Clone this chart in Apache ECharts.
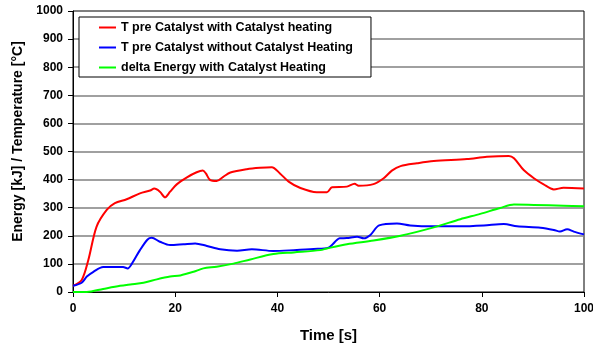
<!DOCTYPE html>
<html>
<head>
<meta charset="utf-8">
<script src="https://cdn.jsdelivr.net/npm/echarts@6/dist/echarts.min.js"></script>
<style>
  html, body { margin: 0; padding: 0; background: #fff; }
  #main { width: 593px; height: 349px; }
</style>
</head>
<body>
<div id="main"></div>
<script>
// series names
const names = [
  "T pre Catalyst with Catalyst heating",
  "T pre Catalyst without Catalyst Heating",
  "delta Energy with Catalyst Heating"
];

// T pre Catalyst with heating
const redT = [0, 1.7, 3.0, 4.6, 6.6, 8.2, 10.5, 13.1, 15.1, 15.9, 17.0, 18.0, 19.0, 20.3, 22.3, 24.2, 25.4, 26.0, 26.8, 28.1, 29.4, 30.8, 34.0, 36.6, 38.9, 40.5, 42.2, 44.5, 47.7, 49.7, 50.7, 53.6, 55.1, 55.9, 58.8, 60.8, 62.4, 64.1, 67.3, 70.6, 77.1, 81.0, 85.3, 86.3, 88.2, 90.2, 92.1, 94.1, 96.0, 100];
const redV = [22, 43, 114, 232, 292, 316, 330, 351, 361, 368, 357, 337, 357, 383, 408, 426, 432, 422, 399, 395, 410, 425, 437, 442, 444, 422, 393, 370, 355, 355, 373, 375, 385, 378, 384, 405, 432, 448, 458, 466, 473, 481, 484, 476, 434, 405, 383, 365, 371, 368];

// T pre Catalyst without heating
const blueT = [0, 1.7, 2.7, 4.0, 5.9, 9.8, 10.7, 11.5, 13.1, 14.6, 15.4, 17.0, 19.0, 21.6, 23.9, 26.2, 28.8, 32.1, 35.0, 39.2, 43.2, 47.1, 50.0, 52.2, 53.6, 55.6, 56.9, 58.2, 59.9, 63.4, 66.0, 70.6, 75.8, 80.4, 84.3, 86.9, 91.5, 94.1, 95.3, 96.7, 98.0, 100];
const blueV = [22, 33, 55, 72, 89, 89, 84, 100, 149, 187, 193, 179, 167, 170, 173, 164, 152, 147, 152, 146, 149, 153, 158, 191, 192, 197, 191, 203, 237, 244, 237, 234, 234, 237, 242, 234, 229, 221, 215, 223, 215, 205];

// delta energy
const greenT = [0, 2.7, 5.9, 9.2, 11.2, 13.8, 16.4, 19.0, 21.0, 23.6, 25.5, 28.1, 31.4, 34.7, 39.2, 43.2, 48.4, 49.7, 53.6, 58.8, 64.1, 70.6, 75.8, 79.7, 83.6, 86.3, 90.2, 96.0, 100];
const greenV = [0, 0, 11, 22, 27, 33, 45, 55, 59, 72, 84, 90, 101, 116, 135, 141, 149, 155, 170, 183, 200, 230, 259, 278, 299, 311, 310, 307, 305];

const colors = ["#ff0000", "#0000ff", "#00ff00"];

function pairs(t, v) {
  return t.map((x, i) => [x, v[i]]);
}

let myChart = echarts.init(document.getElementById("main"));

let font = "'Liberation Sans', Arial, sans-serif";

let series = [
  [redT, redV],
  [blueT, blueV],
  [greenT, greenV]
].map((s, i) => ({
  name: names[i],
  type: "line",
  showSymbol: false,
  smooth: 0.3,
  lineStyle: { color: colors[i], width: 2 },
  itemStyle: { color: colors[i] },
  data: pairs(s[0], s[1])
}));

let option = {
  animation: false,
  textStyle: { fontFamily: font },
  grid: {
    left: 73,
    right: 9,
    top: 11,
    bottom: 57,
    outerBoundsMode: "none",
    containLabel: false,
    show: true,
    borderColor: "#000",
    borderWidth: 1
  },
  legend: {
    orient: "vertical",
    left: 79,
    top: 17,
    padding: [4, 18, 3, 20],
    itemGap: 7,
    itemWidth: 17,
    itemHeight: 2,
    icon: "rect",
    backgroundColor: "#fff",
    borderColor: "#000",
    borderWidth: 1,
    selectedMode: false,
    textStyle: { fontFamily: font, fontWeight: "bold", fontSize: 12.5, color: "#000" },
    data: names
  },
  xAxis: {
    type: "value",
    min: 0,
    max: 100,
    interval: 20,
    name: "Time [s]",
    nameLocation: "middle",
    nameGap: 36,
    nameTextStyle: { fontFamily: font, fontWeight: "bold", fontSize: 15, color: "#000" },
    axisLine: { show: true, lineStyle: { color: "#000", width: 1 } },
    axisTick: { show: true, length: 5, lineStyle: { color: "#000" } },
    axisLabel: { fontFamily: font, fontWeight: "bold", fontSize: 12, color: "#000", margin: 11 },
    splitLine: { show: false }
  },
  yAxis: {
    type: "value",
    min: 0,
    max: 1000,
    interval: 100,
    name: "Energy [kJ] / Temperature [°C]",
    nameLocation: "middle",
    nameGap: 48,
    nameTextStyle: { fontFamily: font, fontWeight: "bold", fontSize: 14, color: "#000", padding: [0, 0, 0, 20] },
    axisLine: { show: true, lineStyle: { color: "#000", width: 1 } },
    axisTick: { show: true, length: 5, lineStyle: { color: "#000" } },
    axisLabel: {
      fontFamily: font, fontWeight: "bold", fontSize: 12, color: "#000", margin: 10,
      formatter: v => String(v)
    },
    splitLine: {
      show: true,
      showMinLine: false,
      showMaxLine: false,
      lineStyle: { color: "#808080", width: 1.5 }
    }
  },
  series: series
};

myChart.setOption(option, true);
</script>
</body>
</html>
